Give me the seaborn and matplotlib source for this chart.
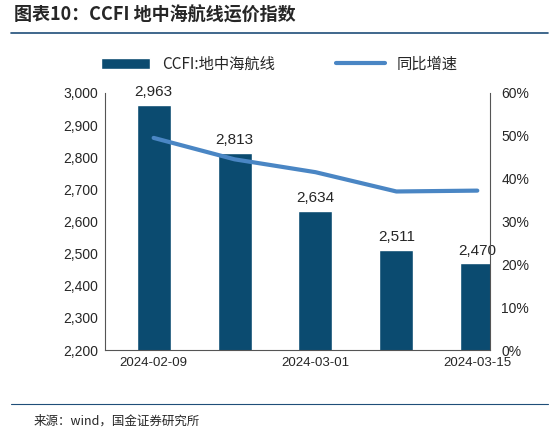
import matplotlib.pyplot as plt
import seaborn as sns
import pandas as pd

sns.set_style("white")
plt.rcParams['font.family'] = ['Noto Sans CJK SC', 'DejaVu Sans']

dates = ["2024-02-09", "2024-02-23", "2024-03-01", "2024-03-08", "2024-03-15"]
ccfi = [2963, 2813, 2634, 2511, 2470]
yoy = [49.5, 44.5, 41.5, 37.0, 37.2]
df = pd.DataFrame({"date": dates, "ccfi": ccfi, "yoy": yoy})

bar_c = "#0b4b70"
line_c = "#4a86c4"
num_font = ["Liberation Sans", "DejaVu Sans"]

fig = plt.figure(figsize=(5.59, 4.36), dpi=100)
ax = fig.add_axes([0.188, 0.197, 0.689, 0.59])
sns.barplot(data=df, x="date", y="ccfi", color=bar_c, width=0.42, ax=ax,
            label="CCFI:地中海航线", saturation=1)
if ax.get_legend() is not None:
    ax.get_legend().remove()
ax.set_ylim(2200, 3000)
ax.set_xlim(-0.6, 4.16)
for i, v in enumerate(ccfi):
    ax.text(i, v + 18, f"{v:,}", ha="center", va="bottom", fontsize=11,
            family=num_font)
ax.set_yticks(range(2200, 3001, 100))
ax.set_yticklabels([f"{v:,}" for v in range(2200, 3001, 100)], fontsize=10,
                   family=num_font)
ax.set_xticks([0, 2, 4])
ax.set_xticklabels([dates[0], dates[2], dates[4]], fontsize=9.5,
                   family=num_font)
ax.set_xlabel("")
ax.set_ylabel("")
for s in ["top", "right"]:
    ax.spines[s].set_visible(False)
ax.spines["left"].set_color("#555555")
ax.spines["bottom"].set_color("#555555")
ax.tick_params(axis="both", length=0, pad=5)

ax2 = ax.twinx()
ax2.plot(range(5), yoy, color=line_c, linewidth=3, label="同比增速")
ax2.set_ylim(0, 60)
ax2.set_yticks(range(0, 61, 10))
ax2.set_yticklabels([f"{v}%" for v in range(0, 61, 10)], fontsize=10,
                    family=num_font)
for s in ["top", "left", "bottom"]:
    ax2.spines[s].set_visible(False)
ax2.spines["right"].set_color("#555555")
ax2.tick_params(axis="y", length=0, pad=8)

h1, l1 = ax.get_legend_handles_labels()
h2, l2 = ax2.get_legend_handles_labels()
fig.legend(h1[:1] + h2, l1[:1] + l2, loc="center", bbox_to_anchor=(0.5, 0.853),
           ncol=2, frameon=False, fontsize=11, handlelength=3.2, columnspacing=4)

fig.text(0.025, 0.965, "图表10：CCFI 地中海航线运价指数", fontsize=13,
         fontweight="bold", style="italic", va="center")
fig.add_artist(plt.Line2D([0.02, 0.98], [0.925, 0.925], color="#1f4e79", lw=1.2))
fig.add_artist(plt.Line2D([0.02, 0.98], [0.073, 0.073], color="#1f4e79", lw=0.8))
fig.text(0.06, 0.035, "来源：wind，国金证券研究所", fontsize=9, va="center")

fig.savefig("out.png", dpi=100)
